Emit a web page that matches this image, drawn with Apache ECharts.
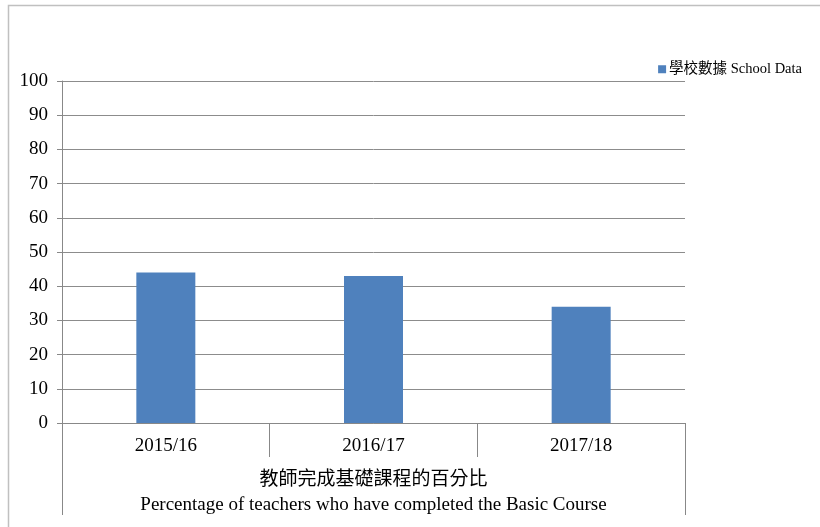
<!DOCTYPE html>
<html><head><meta charset="utf-8">
<script src="https://cdn.jsdelivr.net/npm/echarts@6/dist/echarts.min.js"></script>
<style>html,body{margin:0;padding:0;background:#fff}#c{width:820px;height:527px}</style>
</head><body><div id="c"></div>
<script>
var categories = ['2015/16', '2016/17', '2017/18'];
var schoolData = [44, 43, 34];
var seriesName = '學校數據 School Data';
var titleCN = '教師完成基礎課程的百分比';
var titleEN = 'Percentage of teachers who have completed the Basic Course';
var yTicks = { min: 0, max: 100, interval: 10 };

var FONT = '"Liberation Serif", "Noto Sans CJK TC", serif';
var G = { left: 62, right: 135, top: 81, bottom: 104 };
var W = 820, H = 527;
var x0 = G.left, x1 = W - G.right, yb = H - G.bottom;
var cx = (x0 + x1) / 2;

var chart = echarts.init(document.getElementById('c'), null, { renderer: 'canvas' });
chart.setOption({
  backgroundColor: '#fff',
  animation: false,
  textStyle: { fontFamily: FONT },
  grid: { left: G.left, right: G.right, top: G.top, bottom: G.bottom, containLabel: false },
  legend: {
    data: [seriesName], right: 13, top: 57, icon: 'rect', itemWidth: 8, itemHeight: 8, itemGap: 4,
    textStyle: { fontFamily: FONT, fontSize: 14.5, color: '#000', padding: [0,0,0,-2] }
  },
  xAxis: {
    type: 'category', data: categories,
    axisLine: { show: true, lineStyle: { color: '#888', width: 1 } },
    axisTick: { show: true, length: 34, interval: 0, lineStyle: { color: '#888' } },
    axisLabel: { fontFamily: FONT, fontSize: 19, color: '#000', margin: 14 },
    splitLine: { show: false }
  },
  yAxis: {
    type: 'value', min: yTicks.min, max: yTicks.max, interval: yTicks.interval,
    axisLine: { show: true, lineStyle: { color: '#888', width: 1 } },
    axisTick: { show: true, length: 5, lineStyle: { color: '#888' } },
    axisLabel: { fontFamily: FONT, fontSize: 19, color: '#000', margin: 14 },
    splitLine: { show: true, lineStyle: { color: '#8c8c8c', width: 1 } }
  },
  series: [{
    name: seriesName, type: 'bar', data: schoolData, barWidth: 59,
    itemStyle: { color: '#4f81bd' }
  }],
  graphic: [
    { type: 'rect', shape: { x: 8.5, y: 5.5, width: 900, height: 900 }, style: { fill: null, stroke: '#c0c0c0', lineWidth: 1.5 }, silent: true },
    { type: 'line', shape: { x1: x0 + 0.5, y1: yb, x2: x0 + 0.5, y2: 515 }, style: { stroke: '#888', lineWidth: 1 }, silent: true },
    { type: 'line', shape: { x1: x1 + 0.5, y1: yb, x2: x1 + 0.5, y2: 515 }, style: { stroke: '#888', lineWidth: 1 }, silent: true },
    { type: 'text', x: cx, y: 480, style: { text: titleCN, font: '19px ' + FONT, fill: '#000', textAlign: 'center', textVerticalAlign: 'middle' }, silent: true },
    { type: 'text', x: cx, y: 505, style: { text: titleEN, font: '19px ' + FONT, fill: '#000', textAlign: 'center', textVerticalAlign: 'middle' }, silent: true }
  ]
});
</script></body></html>
